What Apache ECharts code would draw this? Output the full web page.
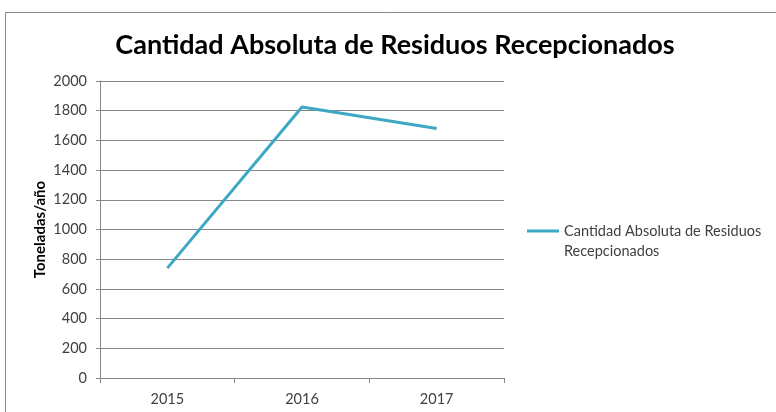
<!DOCTYPE html>
<html>
<head>
<meta charset="utf-8">
<script src="https://cdn.jsdelivr.net/npm/echarts@6/dist/echarts.min.js"></script>
<style>
  html, body { margin: 0; padding: 0; background: #fff; }
  #chart { width: 776px; height: 412px; }
</style>
</head>
<body>
<div id="chart"></div>
<script>
// datos
var years = ["2015", "2016", "2017"];
var toneladas = [740, 1825, 1680];
var serieNombre = "Cantidad Absoluta de Residuos Recepcionados";

var gris = "#868686";
var texto = "#404040";

var myChart = echarts.init(document.getElementById("chart"), null, { renderer: "canvas" });

var option = {
  backgroundColor: "#fff",
  animation: false,
  textStyle: { fontFamily: "Lato, 'Open Sans', sans-serif" },
  graphic: [
    {
      type: "rect",
      shape: { x: 5.5, y: 12.5, width: 820, height: 500 },
      style: { fill: "none", stroke: gris, lineWidth: 1 },
      silent: true
    }
  ],
  title: {
    text: "Cantidad Absoluta de Residuos Recepcionados",
    left: 390,
    textAlign: "center",
    top: 27,
    textStyle: {
      fontFamily: "Lato, sans-serif",
      fontWeight: "bold",
      fontSize: 27,
      color: "#000"
    }
  },
  legend: {
    left: 527,
    top: 201,
    padding: 0,
    icon: "rect",
    itemWidth: 32,
    itemHeight: 3,
    formatter: function () {
      // línea vacía arriba para que el icono quede en la primera línea
      return " \nCantidad Absoluta de Residuos\nRecepcionados";
    },
    textStyle: {
      color: texto,
      fontSize: 14.5,
      lineHeight: 20,
      fontFamily: "Lato, sans-serif"
    }
  },
  grid: {
    left: 100,
    right: 272,
    top: 81,
    bottom: 34,
    containLabel: false
  },
  xAxis: {
    type: "category",
    data: years,
    boundaryGap: true,
    axisLine: { lineStyle: { color: gris, width: 1 } },
    axisTick: { show: true, length: 5, lineStyle: { color: gris } },
    axisLabel: { color: texto, fontSize: 14.5, margin: 14 },
    splitLine: { show: false }
  },
  yAxis: {
    type: "value",
    min: 0,
    max: 2000,
    interval: 200,
    name: "Toneladas/año",
    nameLocation: "middle",
    nameGap: 52,
    nameMoveOverlap: false,
    nameTextStyle: { color: "#000", fontWeight: "bold", fontSize: 15 },
    axisLine: { show: true, lineStyle: { color: gris, width: 1 } },
    axisTick: { show: true, length: 4, lineStyle: { color: gris } },
    axisLabel: {
      color: texto,
      fontSize: 14.5,
      margin: 13,
      formatter: function (v) { return String(v); }
    },
    splitLine: { lineStyle: { color: gris, width: 1 } }
  },
  series: [
    {
      name: serieNombre,
      type: "line",
      data: toneladas,
      symbol: "none",
      itemStyle: { color: "#3DA8C4" },
      lineStyle: { color: "#3DA8C4", width: 3 }
    }
  ]
};

myChart.setOption(option);
</script>
</body>
</html>
